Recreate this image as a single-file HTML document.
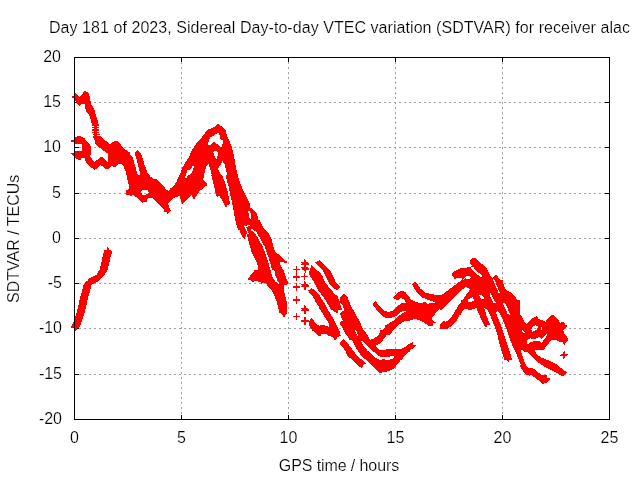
<!DOCTYPE html>
<html><head><meta charset="utf-8"><title>SDTVAR</title>
<style>
html,body{margin:0;padding:0;background:#fff;}
svg{display:block;will-change:transform}
text{font-family:"Liberation Sans",sans-serif;font-size:16px;fill:#000;stroke:#fff;stroke-width:0.2px;paint-order:fill stroke}
</style></head><body>
<svg width="640" height="480" viewBox="0 0 640 480">
<rect width="640" height="480" fill="#fff"/>
<g stroke="#a0a0a0" stroke-width="1" stroke-dasharray="2 3" shape-rendering="crispEdges"><line x1="181.5" y1="57" x2="181.5" y2="419"/><line x1="288.5" y1="57" x2="288.5" y2="419"/><line x1="395.5" y1="57" x2="395.5" y2="419"/><line x1="502.5" y1="57" x2="502.5" y2="419"/><line x1="74" y1="102.5" x2="609" y2="102.5"/><line x1="74" y1="147.5" x2="609" y2="147.5"/><line x1="74" y1="193.5" x2="609" y2="193.5"/><line x1="74" y1="238.5" x2="609" y2="238.5"/><line x1="74" y1="283.5" x2="609" y2="283.5"/><line x1="74" y1="328.5" x2="609" y2="328.5"/><line x1="74" y1="374.5" x2="609" y2="374.5"/></g>
<path d="M74.5 419v-4M74.5 58v4M181.5 419v-4M181.5 58v4M288.5 419v-4M288.5 58v4M395.5 419v-4M395.5 58v4M502.5 419v-4M502.5 58v4M609.5 419v-4M609.5 58v4M75 57.5h4M609 57.5h-4M75 102.5h4M609 102.5h-4M75 147.5h4M609 147.5h-4M75 193.5h4M609 193.5h-4M75 238.5h4M609 238.5h-4M75 283.5h4M609 283.5h-4M75 328.5h4M609 328.5h-4M75 374.5h4M609 374.5h-4M75 419.5h4M609 419.5h-4" stroke="#000" stroke-width="1" fill="none" shape-rendering="crispEdges"/>
<g shape-rendering="crispEdges"><g fill="#f00"><polygon points="74.7,93.6 77,94.7 79.7,96.7 82.5,93.6 85.3,90.5 88.8,93.6 90.3,99.1 91.1,104.5 94.2,108.4 95.8,115.5 97.8,120.2 98.9,125.6 99.4,135 102,138.9 105.9,143.6 109.1,146.7 99.7,147.5 96.6,144.4 93.4,138.1 92.7,131.9 91.9,125.6 91.1,120.2 88.8,114.7 85.6,110.8 85.3,104.5 81.7,103.8 79.4,106.1 76.2,102.2 74.7,100.6"/><polygon points="74.2,137.5 79.4,135.8 84.1,138 87.3,141.7 90.2,145 91.4,149.7 90.2,156.7 91.1,157.9 94.4,161.9 97.2,160 101.9,156.2 107.5,161.9 107.5,153.4 100.9,148.7 95.3,144.1 95.3,141.2 93,137.5 92,130 99.1,130 100,135.6 102.8,138.4 107.5,142.2 111.2,145 115,141.2 118.7,142.2 122.5,146.9 126.2,150.2 130,152.5 130,175 126.2,175 124.8,167.5 121.6,163.7 118.7,163.7 115,167.5 111.2,165.6 110.3,167.5 107,169.8 100.9,165.2 94.8,169.8 89.7,166.6 85,160.9 85,158.1 81.2,158.1 80.3,160.5 74.7,157.7 74.2,155.3"/><polygon points="110,144.4 115,140.6 118.8,141.9 122.5,147.5 128.8,152.5 132.5,156.9 133.8,161.2 136.9,172.5 138.8,177.5 141.2,177.5 140,172.5 136.9,160 135,155 134.4,153.8 137.5,150 141.9,155 143.1,160 145,166.2 147.5,172.5 150,176.2 153.8,179.4 156.9,178.8 160,182.5 163.8,186.2 166.2,190 168.8,190.6 172.5,187.5 176.2,182.5 180,173.8 182.5,167.5 186.2,161.2 190,156.2 190,195 126.2,195 126.2,190 129.4,188.8 128.8,185 127.5,180 125.6,171.2 123.1,165 119.4,163.1 115.6,167.5 110,165.6"/><polygon points="126.9,175 148.8,175 153.8,179.4 157.5,180.6 162.5,186.2 166.9,191.9 171.2,190 175,186.9 178.1,181.2 180,175 190,175 190,191.2 187.5,193.8 186.2,198.8 183.8,203.1 182.5,200 180.6,200 180,195.6 175,197.5 171.2,200 168.1,203.8 168.8,206.2 171.2,211.2 168.8,211.9 168.1,215 166.9,212.5 164.4,211.9 163.8,208.8 160,205.6 156.2,201.9 152.5,197.5 150,198.1 146.9,198.8 146.9,201.9 142.5,202.5 138.8,199.4 135,196.2 133.1,194.4 131.9,196.2 128.8,195 126.2,191.9 126.9,190 130,187.5 128.8,182.5 127.5,177.5"/><polygon points="180,175 182.5,170 186.2,163.8 188.8,157.5 191.9,150 196.2,143.8 201.2,138.1 204.4,133.8 208.1,129.4 212.5,128.1 218.1,123.8 221.2,126.2 225.6,130.6 227.5,136.9 230,142.5 231.9,147.5 233.8,155 235,162.5 236.2,170 236.9,175"/><polygon points="170,188.8 175,185.6 178.8,180.6 180.6,175 182.5,170 205,170 204.4,175 203.1,179.4 206.2,182.5 207.5,185 204.4,186.9 203.1,188.8 199.4,191.2 196.9,195 193.8,200 192.5,196.9 191.2,195 190,196.9 187.5,198.8 185,201.2 182.5,203.8 180.6,200 181.2,195 178.8,194.4 175,197.5 170,200"/><polygon points="210,170 220,170 222.5,176.2 225,182.5 227.5,191.2 229.4,200 230,203.8 227.5,205 226.2,207.5 223.8,203.8 221.9,199.4 219.4,196.2 216.9,196.9 215.6,193.8 215,190 213.8,185 211.9,177.5"/><polygon points="225.6,170 236.2,170 238.1,176.2 240,182.5 243.1,190 246.2,196.2 250,203.8 250,230 238.1,230 236.2,222.5 234.4,212.5 232.5,203.8 231.2,197.5 229.4,188.8 228.1,182.5 226.9,176.2"/><polygon points="225,165 235.6,165 236.9,172.5 238.8,180 240.6,186.2 243.1,195 246.9,198.1 248.1,203.8 250,208.1 251.9,208.1 256.9,213.1 258.1,218.8 260.6,225 236.2,225 234.4,215 232.5,205 230.6,196.2 228.8,187.5 226.2,177.5 225,170"/><polygon points="225,187.5 226.9,188.8 229.4,202.5 227.5,205 225,207.5"/><polygon points="235,220 259.4,220 261.9,225 265,230 268.8,233.8 271.9,240 273.1,246.2 275,251.9 276.9,253.1 281.2,256.2 284.4,260 288.1,261.9 286.2,263.1 283.8,262.5 281.2,261.9 279.4,263.1 280.6,265.6 283.1,270 285,275 286.2,280 248.1,280 249.4,276.9 251.9,273.1 255,271.2 258.1,270 258.1,266.2 256.2,261.2 253.8,256.2 251.2,251.2 250,246.2 248.1,240 246.9,233.1 244.4,239.4 241.9,236.2 239.4,230 236.9,223.8"/><polygon points="254.4,270 283.8,270 285,275 286.9,280 288.1,282.5 286.9,285 284.4,285 283.8,290 285,295 286.2,300 287.5,305 286.9,308.8 287.5,313.8 285,315 284.4,318.1 282.5,315 279.4,312.5 278.1,307.5 276.9,302.5 275,297.5 273.1,292.5 270.6,288.8 267.5,286.2 265.6,282.5 261.9,282.5 261.2,284.4 260.6,281.9 256.2,281.2 251.9,281.9 250,279.4 248.1,278.8 250.6,275 254.4,271.2"/><polygon points="315,262.5 319.4,260 322.5,263.1 326.9,266.9 330.6,271.2 333.1,276.2 335.6,281.9 338.8,285.6 341.2,286.9 337.5,290 333.8,288.8 330,285 327.5,280 325,274.4 323.1,271.2 320,267.5 316.9,264.4"/><polygon points="310.6,267.5 311.9,264.4 313.1,266.9 316.9,270 320.6,273.1 322.8,276.9 324.4,281.2 328.1,286.2 331.2,290 335.6,295 338.1,298.8 340,303.8 342.5,310 330,310 327.5,303.8 325,299.4 321.2,294.4 318.1,290 315.6,285 313.1,280.6 310.6,276.9 308.8,273.1"/><polygon points="339.4,300 340,297.5 343.8,294.4 345,296.9 347.5,297.5 349.4,302.5 351.9,308.1 352.5,310 345,310 343.1,306.2 341.2,303.1"/><polygon points="308.1,290.6 311.9,288.1 315,290.6 318.8,294.4 321.9,298.8 325,302.5 326.9,306.2 327.5,310 320,310 318.1,305 315,300 311.9,295 309.4,292.5"/><polygon points="322.5,295 337,295 338,297.8 339.8,301.6 338,303.4 338.4,306.2 340.3,309.5 338,310 338,313.3 333.7,311.4 330.9,308.1 328.1,304.4 325.3,299.7"/><polygon points="315,295 319.2,295 322.5,299.7 325.3,303.4 327.2,308.1 330,312.8 332.8,316.6 335.2,320.3 336.1,324.1 338.4,328.7 340.3,333.4 340.8,336.2 337.5,336.7 336.6,339.1 334.7,340 333.7,339.1 332.8,336.2 329.1,336.2 327.2,334.4 320.6,333.4 318.7,336.2 315,332.5 315,322.2 318.7,325.9 322.5,325 326.2,325.9 329.1,327.3 329.5,325.9 327.7,321.2 324.4,316.6 321.6,311.9 318.7,306.2 315,301.6"/><polygon points="340.3,297.8 344.1,295 347.3,296.9 349.2,301.6 351.6,307.2 354.4,311.9 357.2,317.5 360,321.2 361.9,326.9 364.7,331.6 367.5,335.3 370.3,340 349.7,340 346.9,335.3 345,331.6 343.1,327.8 340.3,325 340.3,322.2 343.1,320.3 341.2,317.5 340.3,313.7 343.1,310.9 345,309.1 342.7,304.4 340.3,301.6"/><polygon points="308.8,322.5 311.2,317.5 313.1,320 316.2,323.8 320,326.2 323.1,325 326.9,326.2 329.4,326.9 330,336.2 326.2,333.8 321.2,333.8 320,336.9 316.2,333.8 311.9,330 308.8,325"/><polygon points="315.6,300 323.1,300 326.2,305 328.1,310 331.2,315 334.4,320 336.2,325 338.1,330 340.6,333.8 340,335.6 337.5,336.2 336.9,338.8 335,340 333.1,336.9 330,336.2 329.4,326.9 330,325 327.5,320 324.4,315 321.2,310 318.8,305"/><polygon points="330,275 332.5,275 335,281.2 337.5,285.6 340.6,286.9 338.1,289.4 336.9,290.6 333.8,288.1 330,285"/><polygon points="340,297.5 343.8,293.8 347.5,297.5 349.4,303.8 351.9,310 355,316.2 358.1,321.2 360.6,326.2 363.1,331.2 365.6,335 346.2,335 345,332.5 343.1,328.8 340.6,325 340.6,322.5 343.1,321.2 341.9,318.8 340.6,315 342.5,312.5 344.4,310 342.5,305 340,301.9"/><polygon points="330,315 332.5,318.8 335,325 338.1,331.2 340,335 330,335"/><polygon points="372.5,304.4 375.6,301.2 377.5,303.8 381.2,308.1 385,311.2 388.8,311.9 392.5,310.6 395.6,308.1 398.8,305.6 401.9,303.1 406.2,303.1 410,304.4 410,311.2 405,310.6 401.2,312.5 398.1,315 393.8,317.5 388.8,318.8 383.8,316.9 380,313.8 376.2,309.4 373.8,306.2"/><polygon points="380,333.8 383.8,328.8 388.8,323.8 395,318.8 400,315 403.8,312.5 410,311.2 410,318.8 403.8,321.2 398.8,325 393.8,330 389.4,335 380,335"/><polygon points="385,311.2 390,311.9 393.8,310 397.5,306.2 401.2,303.1 406.2,303.8 404.4,299.4 400.6,298.1 396.9,300.6 393.1,297.5 396.2,293.8 401.2,290.6 405,291.9 408.1,295.6 411.2,299.4 415.6,301.9 421.2,303.1 425,301.9 427.5,303.8 431.2,302.8 436.2,303.5 432.5,301.2 427.5,300 422.5,297.5 418.1,293.8 414.4,288.8 411.9,284.4 415,281.2 417.5,284.4 420.6,288.8 426.2,293.1 433.8,294.4 440,295.6 445,293.8 450,289.4 455,285 460,281.2 465,278.8 465,287.5 460,291.2 455,295 450,300 443.8,305 438.8,309.4 435,313.8 432.5,317.5 431.9,320 435.6,322.5 432.5,323.8 432.5,326.2 428.8,326.2 425,323.1 420,320.6 415,318.8 410,320.6 405,321.2 400,322.5 395,326.2 390,330 387.5,333.8 385,335"/><polygon points="440,325 443.8,321.9 447.5,321.2 451.2,317.5 455,311.2 458.8,305 462.5,301.2 465,298.8 465,307.5 462.5,310 460,313.8 456.9,318.8 452.5,325 447.5,328.8 443.1,328.8"/><polygon points="451.2,275 460,275 460,277.5 456.2,278.5 453.8,276.9"/><polygon points="330,330 338.8,330 340.6,335 337.5,336.2 335.6,339.4 333.8,338.8 332.5,336.9 330,336.2"/><polygon points="340.6,341.9 343.1,339.4 345.6,341.9 348.8,345 352.5,350 356.2,354.4 360,358.1 364.4,361.9 366.2,363.8 363.1,365 362.5,367.5 359.4,365.6 355.6,362.5 351.2,358.1 347.5,353.8 344.4,348.8 341.9,345"/><polygon points="345,330 363.8,330 367.5,335 370.2,339.8 373.1,339 376.2,336.9 379.4,333.8 380,330 391.2,330 387.5,333.8 385,337.5 382.5,340.6 379.4,343.8 375.6,345.6 376.9,347.5 379.4,350 382.5,350 386.2,349.4 391.2,348.8 396.2,348.8 401.2,348.8 406.2,347.5 410,344.4 410,351.2 408.1,352.5 405,355 401.9,358.8 398.8,362.5 396.2,365.6 393.8,368.8 390,370.6 385,371.9 380,373.1 376.9,370.6 373.8,367.5 371.2,364.4 367.5,361.2 362.5,356.9 358.8,352.5 355.6,347.5 352.5,341.2 348.8,335"/><polygon points="400,350 403.8,348.1 407.5,345 412.5,341.9 413.1,344.4 416.2,345.6 413.8,348.1 410,350 406.2,353.1 403.8,356.2 401.9,360 400,360"/><polygon points="440,296.2 445,292.5 450,288.8 455,285 460,281.2 463.1,278.8 460.6,278.1 457.5,278.1 454.4,278.8 453.8,276.2 451.2,275 453.8,271.2 457.5,270 461.2,267.5 465,268.1 470,266.9 471.9,266.2 470.6,263.8 469.4,261.2 472.5,258.1 475.6,258.1 478.1,261.2 482.5,264.4 486.2,267.5 488.1,271.2 490,275 491.9,278.1 495,275.6 496.9,275 498.8,278.1 501.2,281.2 503.1,285.6 505,288.8 508.1,291.2 511.2,292.5 515,296.2 517.5,301.2 519.4,307.5 520,311.2 520,315 490,315 487.5,310 485.6,307.5 484.4,308.1 486.2,315 479.4,315 477.5,311.2 476.9,307.5 473.8,308.1 470,309.4 465.6,308.1 463.1,310 460.6,315 454.4,315 455,311.9 458.8,307.5 461.2,303.1 463.8,298.1 466.9,293.8 469.4,290.6 470,288.8 466.2,286.9 463.1,288.8 460,291.2 456.2,295 452.5,298.8 448.8,302.5 445,306.2 441.2,310 440,310"/><polygon points="461.2,300 520,300 520,360 516.2,360 513.8,353.8 511.2,347.5 508.8,340 506.2,331.2 503.8,323.8 501.2,316.2 497.5,311.2 495,311.9 498.1,316.2 501.2,323.8 503.1,331.2 505,337.5 507.5,346.2 510,353.8 511.9,360 504.4,360 502.5,353.8 500.6,347.5 498.8,341.2 497.5,335 495,327.5 492.5,321.2 490.6,316.2 489.4,311.9 487.5,310 483.8,307.5 484.4,310 486.2,315 488.1,320 490,324.4 487.5,325 486.2,327.5 484.4,325.6 481.9,321.2 480,316.2 478.1,311.2 476.9,307.5 473.8,308.8 470,310 465,308.8 461.2,311.9 458.8,316.2 456.2,321.2 452.5,325 447.5,328.1 442.5,328.8 440,328.8 440,324.4 443.8,321.2 446.9,322.5 451.2,320 453.8,315 456.2,310 460,305"/><polygon points="500,280 502.5,280 503.8,285 505.6,290 509.4,292.5 512.5,295 515.6,298.8 517.5,301.9 515.6,303.1 516.2,306.9 518.8,311.2 521.2,316.2 523.8,321.2 526.2,324.4 529.4,320.6 532.5,318.8 536.2,316.2 538.1,318.8 541.9,320 545.6,321.9 548.1,318.1 551.9,315 555,316.9 558.1,320.6 560.6,323.1 563.8,322.5 565.6,325 567.5,326.9 565,328.1 563.1,330 564.4,333.8 566.9,337.5 568.1,340 500,340"/><polygon points="497.5,335 504.4,335 506.2,340 508.1,346.2 510,352.5 511.9,358.8 509.4,360 508.1,362.5 506.2,358.8 504.4,353.8 502.5,348.8 500.6,342.5 498.8,337.5"/><polygon points="509.4,335 511.2,340 513.8,346.2 515.6,352.5 518.1,360 520.6,366.2 523.1,371.2 526.9,375 529.4,375.6 531.2,375 535,377.5 538.8,380.6 542.5,383.8 546.9,383.1 548.8,380.6 550.6,378.8 547.5,377.5 546.9,375 543.8,375.6 540,373.8 536.2,370.6 532.5,368.1 530.6,367.5 528.1,368.1 526.2,365.6 524.4,361.9 523.1,357.5 521.9,353.8 520.6,350 521.9,349.4 525,352.5 527.5,351.9 531.2,356.2 535,360 540,363.8 545,366.9 550,369.4 555,371.9 560,375 563.1,376.2 565,374.4 567.5,372.5 564.4,370.6 561.2,368.1 557.5,365 552.5,362.5 547.5,360 542.5,358.1 538.1,355.6 535.6,352.5 534.4,349.4 538.1,347.5 542.5,346.9 546.2,344.4 550,341.2 552.5,337.5 554.4,336.2 556.2,338.1 560,340.6 563.8,341.9 565,343.8 566.2,341.9 568.1,340 566.9,336.9 565.6,335"/><polygon points="520,314.8 521.9,316.2 523.7,320.9 526.6,324.7 528.4,321.9 531.2,319.1 534.1,317.2 536.9,316.2 538.3,318.6 541.6,320 544.8,322.8 547.2,320 550,316.7 552.3,314.8 554.7,315.8 557.5,319.1 560.3,322.8 563.1,321.9 565,324.2 567.8,326.1 565.5,328 563.1,330.3 564.1,334.1 565.9,336.9 567.8,337.8 567.8,341.1 565,342.5 564.5,344.8 562.7,342.5 558,341.1 555.6,338.3 553.3,336.4 552.3,338.7 550,341.6 547.2,345.3 544.8,348.1 543.9,350 520,350"/><polygon points="343,339 344.1,339.4 346.7,341.9 349.6,345.9 352.5,349.6 354.3,353.2 356.9,355.4 359,357.6 362,360.5 365.6,363.8 363.1,364.9 363.1,367.1 361.2,367.8 358.3,365.6 354.7,362.7 350.3,358.3 347,355.4 345.9,351.8 343,347.4 340.5,344.5 340.1,342.3 342.7,341.6"/><polygon points="512.8,345 514.2,349.7 515.6,354.4 517,359.1 518.9,363.7 521.2,368.4 524.1,372.2 525.9,373.1 525,369.4 522.2,363.7 520.3,359.1 519.4,354.4 518.4,349.7 517.5,345"/></g><g fill="#fff"><polygon points="75.2,144.1 81.7,144.1 81.7,150.6 75.2,150.6"/><polygon points="141.2,191.2 143.1,190 147.5,190 149.4,193.1 146.9,193.8 145,195 141.9,194.4"/><polygon points="207.5,145 210,137.5 213.8,135.6 218.1,132.5 220,136.2 220.6,140 223.8,140.6 221.2,147.5 217.5,144.4 213.8,141.9 210,145.6"/><polygon points="213.1,151.9 215.6,150.6 218.1,152.5 216.9,160 214.4,156.2"/><polygon points="187.5,174 193.1,165.6 194,166.2 191.9,172.5 190,175 188.5,175"/><polygon points="203.8,175 206.9,165 208.8,164.4 210.6,170 211.9,175"/><polygon points="218.1,168.8 222.5,161.2 225,165 226.2,171.2 227.5,175 221.2,175"/><polygon points="187.5,170 190,170 186.9,177.5 185,178.1"/><polygon points="248.1,210.6 250,210.6 251.5,218.8 250,219.4 248.8,215"/><polygon points="271.9,270 274.4,270 275.6,276.2 277.5,280.6 280,283.1 278.1,283.8 275,281.2 273.1,276.2"/><polygon points="354.8,330.2 356.2,330.6 358.1,335.3 357.2,336.2"/><polygon points="385,318.1 390,318.1 395,316.9 398.8,313.8 401.9,311.2 405.6,310.6 406.2,311.9 402.5,313.1 399.4,315.6 396.2,318.8 392.5,321.2 388.8,323.5 385,325.6"/><polygon points="360.6,340.6 362.5,340.6 365.6,343.8 370,348.1 373.8,351.9 377.5,355 381.2,356.9 385,356.9 388.8,356.9 392.5,355.6 395,356.9 391.2,359.4 386.2,360 383.8,358.8 380,360 376.2,358.1 372.5,355 367.5,350.6 363.8,346.2"/><polygon points="470.6,267.5 473.1,266.9 476.2,270.6 480,273.8 481.9,275 481.9,277.5 479.4,276.2 475.6,273.1 472.5,270"/><polygon points="462.5,279.4 466.9,275.6 470,276.2 471.2,277.5 468.1,279.4 465.6,278.1 463.8,280"/><polygon points="468.1,299.4 473.1,296.9 473.8,300.6 471.9,301.9 468.1,301.9"/><polygon points="478.8,294.4 481.2,295 484.4,298.1 482.5,299.4 480,297.5"/><polygon points="489.4,291.9 491.2,293.8 493.1,298.1 495.6,302.5 493.8,303.1 491.2,298.8 490,295"/><polygon points="492.5,278.1 494.4,279.4 496.2,283.8 498.1,288.8 499.8,292.5 498.5,292.5 496.9,288.8 495,284.4 493.1,280.6"/><polygon points="503.1,303.1 505,303.8 506.9,308.8 508.8,313.8 507.5,313.8 505.6,309.4 503.8,305"/><polygon points="503.1,303.1 505,303.8 508.1,309.4 509.4,314.4 508.1,314.4 506.2,309.4 503.8,305.6"/><polygon points="503.1,303.1 505,303.1 506.9,306.9 508.8,311.2 510,315 508.8,315 506.9,311.2 505,307.5"/><polygon points="500,316.2 501.9,317.5 503.1,322.5 504.4,327.5 502.5,328.1 501.2,322.5 500,320"/><polygon points="527.2,343.8 527.8,340 530.6,337.8 531.5,339.4 535,338.8 539.4,336.9 541.5,338.8 544.4,335.6 545,336.2 544,339.4 541.9,342.5 538.8,340.6 533.8,341.2 529.4,342.5"/><polygon points="531.2,329.4 532.7,326.6 535.5,325.2 537.8,326.6 537.3,329.4 534.1,330.8 532.7,332.2"/><polygon points="541.1,327 542.3,327 542.3,329.8 541.1,329.8"/><polygon points="521.9,329.8 523.7,330.8 525.6,333.1 524.2,333.6 522.3,331.7"/><polygon points="527,342.5 527.5,340.2 529.8,339.2 530.3,337.3 531.2,339.2 534.1,339.2 537.8,338.3 539.7,337.3 541.6,338.7 543.4,336.9 545.8,334.5 547.2,334.1 546.2,336.4 544.8,338.7 543,341.1 541.6,343 540.2,341.1 537.8,340.6 534.1,341.1 530.8,342 528.9,343.4 527.5,343.9"/><polygon points="495.9,312.2 498,312.7 500.6,315.8 502.7,321 504.3,326.2 505.8,331.5 507.4,336.7 509.5,341.9 510.5,345 507.4,345 505.8,339.8 504.3,335.6 502.2,329.4 500.6,324.2 498.5,319 497,315.3"/><polygon points="319.6,295 322,295 325.2,299.7 328,304.4 330.3,309.1 333.2,313.7 336.2,318.4 337.7,323.1 339.1,326.9 338.9,329.7 337.2,326.9 335.3,322.2 333,318 330.2,313.3 327.3,309.1 325,303.4 321.9,299.7"/><polygon points="496.2,311.9 498.8,315.6 501.5,321.2 504,327.5 505.9,335 507.8,342.5 510,350 512.2,356.2 512.8,360 512.8,365 521,365 518.8,360 516.9,355 513.8,348.8 511.2,342.5 509,336.2 506.9,330 504.4,323.8 501.9,317.5 499.4,313.1 497.5,311.2"/><polygon points="90,126 94.4,126 94.4,127 90,127"/><polygon points="96.8,126 101.5,126 101.5,127 96.8,127"/><polygon points="90,128 94.4,128 94.4,129 90,129"/><polygon points="96.8,128 101.5,128 101.5,129 96.8,129"/><polygon points="90,131 94.4,131 94.4,132 90,132"/><polygon points="96.8,131 101.5,131 101.5,132 96.8,132"/><polygon points="90,133 94.4,133 94.4,134 90,134"/><polygon points="96.8,133 101.5,133 101.5,134 96.8,134"/><polygon points="90,135 94.4,135 94.4,136 90,136"/><polygon points="96.8,135 101.5,135 101.5,136 96.8,136"/></g><clipPath id="hc"><polygon points="75.2,144.1 81.7,144.1 81.7,150.6 75.2,150.6"/><polygon points="141.2,191.2 143.1,190 147.5,190 149.4,193.1 146.9,193.8 145,195 141.9,194.4"/><polygon points="207.5,145 210,137.5 213.8,135.6 218.1,132.5 220,136.2 220.6,140 223.8,140.6 221.2,147.5 217.5,144.4 213.8,141.9 210,145.6"/><polygon points="213.1,151.9 215.6,150.6 218.1,152.5 216.9,160 214.4,156.2"/><polygon points="187.5,174 193.1,165.6 194,166.2 191.9,172.5 190,175 188.5,175"/><polygon points="203.8,175 206.9,165 208.8,164.4 210.6,170 211.9,175"/><polygon points="218.1,168.8 222.5,161.2 225,165 226.2,171.2 227.5,175 221.2,175"/><polygon points="187.5,170 190,170 186.9,177.5 185,178.1"/><polygon points="248.1,210.6 250,210.6 251.5,218.8 250,219.4 248.8,215"/><polygon points="271.9,270 274.4,270 275.6,276.2 277.5,280.6 280,283.1 278.1,283.8 275,281.2 273.1,276.2"/><polygon points="354.8,330.2 356.2,330.6 358.1,335.3 357.2,336.2"/><polygon points="385,318.1 390,318.1 395,316.9 398.8,313.8 401.9,311.2 405.6,310.6 406.2,311.9 402.5,313.1 399.4,315.6 396.2,318.8 392.5,321.2 388.8,323.5 385,325.6"/><polygon points="360.6,340.6 362.5,340.6 365.6,343.8 370,348.1 373.8,351.9 377.5,355 381.2,356.9 385,356.9 388.8,356.9 392.5,355.6 395,356.9 391.2,359.4 386.2,360 383.8,358.8 380,360 376.2,358.1 372.5,355 367.5,350.6 363.8,346.2"/><polygon points="470.6,267.5 473.1,266.9 476.2,270.6 480,273.8 481.9,275 481.9,277.5 479.4,276.2 475.6,273.1 472.5,270"/><polygon points="462.5,279.4 466.9,275.6 470,276.2 471.2,277.5 468.1,279.4 465.6,278.1 463.8,280"/><polygon points="468.1,299.4 473.1,296.9 473.8,300.6 471.9,301.9 468.1,301.9"/><polygon points="478.8,294.4 481.2,295 484.4,298.1 482.5,299.4 480,297.5"/><polygon points="489.4,291.9 491.2,293.8 493.1,298.1 495.6,302.5 493.8,303.1 491.2,298.8 490,295"/><polygon points="492.5,278.1 494.4,279.4 496.2,283.8 498.1,288.8 499.8,292.5 498.5,292.5 496.9,288.8 495,284.4 493.1,280.6"/><polygon points="503.1,303.1 505,303.8 506.9,308.8 508.8,313.8 507.5,313.8 505.6,309.4 503.8,305"/><polygon points="503.1,303.1 505,303.8 508.1,309.4 509.4,314.4 508.1,314.4 506.2,309.4 503.8,305.6"/><polygon points="503.1,303.1 505,303.1 506.9,306.9 508.8,311.2 510,315 508.8,315 506.9,311.2 505,307.5"/><polygon points="500,316.2 501.9,317.5 503.1,322.5 504.4,327.5 502.5,328.1 501.2,322.5 500,320"/><polygon points="527.2,343.8 527.8,340 530.6,337.8 531.5,339.4 535,338.8 539.4,336.9 541.5,338.8 544.4,335.6 545,336.2 544,339.4 541.9,342.5 538.8,340.6 533.8,341.2 529.4,342.5"/><polygon points="531.2,329.4 532.7,326.6 535.5,325.2 537.8,326.6 537.3,329.4 534.1,330.8 532.7,332.2"/><polygon points="541.1,327 542.3,327 542.3,329.8 541.1,329.8"/><polygon points="521.9,329.8 523.7,330.8 525.6,333.1 524.2,333.6 522.3,331.7"/><polygon points="527,342.5 527.5,340.2 529.8,339.2 530.3,337.3 531.2,339.2 534.1,339.2 537.8,338.3 539.7,337.3 541.6,338.7 543.4,336.9 545.8,334.5 547.2,334.1 546.2,336.4 544.8,338.7 543,341.1 541.6,343 540.2,341.1 537.8,340.6 534.1,341.1 530.8,342 528.9,343.4 527.5,343.9"/><polygon points="495.9,312.2 498,312.7 500.6,315.8 502.7,321 504.3,326.2 505.8,331.5 507.4,336.7 509.5,341.9 510.5,345 507.4,345 505.8,339.8 504.3,335.6 502.2,329.4 500.6,324.2 498.5,319 497,315.3"/><polygon points="319.6,295 322,295 325.2,299.7 328,304.4 330.3,309.1 333.2,313.7 336.2,318.4 337.7,323.1 339.1,326.9 338.9,329.7 337.2,326.9 335.3,322.2 333,318 330.2,313.3 327.3,309.1 325,303.4 321.9,299.7"/><polygon points="496.2,311.9 498.8,315.6 501.5,321.2 504,327.5 505.9,335 507.8,342.5 510,350 512.2,356.2 512.8,360 512.8,365 521,365 518.8,360 516.9,355 513.8,348.8 511.2,342.5 509,336.2 506.9,330 504.4,323.8 501.9,317.5 499.4,313.1 497.5,311.2"/><polygon points="90,126 94.4,126 94.4,127 90,127"/><polygon points="96.8,126 101.5,126 101.5,127 96.8,127"/><polygon points="90,128 94.4,128 94.4,129 90,129"/><polygon points="96.8,128 101.5,128 101.5,129 96.8,129"/><polygon points="90,131 94.4,131 94.4,132 90,132"/><polygon points="96.8,131 101.5,131 101.5,132 96.8,132"/><polygon points="90,133 94.4,133 94.4,134 90,134"/><polygon points="96.8,133 101.5,133 101.5,134 96.8,134"/><polygon points="90,135 94.4,135 94.4,136 90,136"/><polygon points="96.8,135 101.5,135 101.5,136 96.8,136"/></clipPath><g clip-path="url(#hc)"><g stroke="#a0a0a0" stroke-width="1" stroke-dasharray="2 3" shape-rendering="crispEdges"><line x1="181.5" y1="57" x2="181.5" y2="419"/><line x1="288.5" y1="57" x2="288.5" y2="419"/><line x1="395.5" y1="57" x2="395.5" y2="419"/><line x1="502.5" y1="57" x2="502.5" y2="419"/><line x1="74" y1="102.5" x2="609" y2="102.5"/><line x1="74" y1="147.5" x2="609" y2="147.5"/><line x1="74" y1="193.5" x2="609" y2="193.5"/><line x1="74" y1="238.5" x2="609" y2="238.5"/><line x1="74" y1="283.5" x2="609" y2="283.5"/><line x1="74" y1="328.5" x2="609" y2="328.5"/><line x1="74" y1="374.5" x2="609" y2="374.5"/></g>
<path d="M74.5 419v-4M74.5 58v4M181.5 419v-4M181.5 58v4M288.5 419v-4M288.5 58v4M395.5 419v-4M395.5 58v4M502.5 419v-4M502.5 58v4M609.5 419v-4M609.5 58v4M75 57.5h4M609 57.5h-4M75 102.5h4M609 102.5h-4M75 147.5h4M609 147.5h-4M75 193.5h4M609 193.5h-4M75 238.5h4M609 238.5h-4M75 283.5h4M609 283.5h-4M75 328.5h4M609 328.5h-4M75 374.5h4M609 374.5h-4M75 419.5h4M609 419.5h-4" stroke="#000" stroke-width="1" fill="none" shape-rendering="crispEdges"/>
</g><polyline fill="none" stroke="#fff" stroke-width="1.7" points="251.2,229.4 255.6,232.5 259.4,238.8 263.8,246.9 267.5,256.9 270.6,267.5 273.8,278.8"/><polyline fill="none" stroke="#fff" stroke-width="1.2" points="244.8,226.2 246.9,230.6 248.1,233.8"/><polyline fill="none" stroke="#fff" stroke-width="1.2" points="246.2,226.5 250.6,224.8"/><g fill="none" stroke="#f00" stroke-width="1" stroke-linejoin="round"><polyline points="74,328 75.5,326 78,319 81,309.5 83,300 85.5,291 87,285 90,281.5 93,280 97,278 100,275 103,270 105,262 106.5,255 108,250.5"/><polyline points="75,328 76.5,326 79,319 82,309.5 84,300 86.5,291 88,285 91,281.5 94,280 98,278 101,275 104,270 106,262 107.5,255 109,251"/><g transform="translate(-3,0)"><polyline points="74,328 75.5,326 78,319 81,309.5 83,300 85.5,291 87,285 90,281.5 93,280 97,278 100,275 103,270 105,262 106.5,255 108,250.5"/><polyline points="75,328 76.5,326 79,319 82,309.5 84,300 86.5,291 88,285 91,281.5 94,280 98,278 101,275 104,270 106,262 107.5,255 109,251"/></g><g transform="translate(-2,0)"><polyline points="74,328 75.5,326 78,319 81,309.5 83,300 85.5,291 87,285 90,281.5 93,280 97,278 100,275 103,270 105,262 106.5,255 108,250.5"/><polyline points="75,328 76.5,326 79,319 82,309.5 84,300 86.5,291 88,285 91,281.5 94,280 98,278 101,275 104,270 106,262 107.5,255 109,251"/></g><g transform="translate(-1,0)"><polyline points="74,328 75.5,326 78,319 81,309.5 83,300 85.5,291 87,285 90,281.5 93,280 97,278 100,275 103,270 105,262 106.5,255 108,250.5"/><polyline points="75,328 76.5,326 79,319 82,309.5 84,300 86.5,291 88,285 91,281.5 94,280 98,278 101,275 104,270 106,262 107.5,255 109,251"/></g><g transform="translate(1,0)"><polyline points="74,328 75.5,326 78,319 81,309.5 83,300 85.5,291 87,285 90,281.5 93,280 97,278 100,275 103,270 105,262 106.5,255 108,250.5"/><polyline points="75,328 76.5,326 79,319 82,309.5 84,300 86.5,291 88,285 91,281.5 94,280 98,278 101,275 104,270 106,262 107.5,255 109,251"/></g><g transform="translate(2,0)"><polyline points="74,328 75.5,326 78,319 81,309.5 83,300 85.5,291 87,285 90,281.5 93,280 97,278 100,275 103,270 105,262 106.5,255 108,250.5"/><polyline points="75,328 76.5,326 79,319 82,309.5 84,300 86.5,291 88,285 91,281.5 94,280 98,278 101,275 104,270 106,262 107.5,255 109,251"/></g><g transform="translate(3,0)"><polyline points="74,328 75.5,326 78,319 81,309.5 83,300 85.5,291 87,285 90,281.5 93,280 97,278 100,275 103,270 105,262 106.5,255 108,250.5"/><polyline points="75,328 76.5,326 79,319 82,309.5 84,300 86.5,291 88,285 91,281.5 94,280 98,278 101,275 104,270 106,262 107.5,255 109,251"/></g><g transform="translate(0,-3)"><polyline points="74,328 75.5,326 78,319 81,309.5 83,300 85.5,291 87,285 90,281.5 93,280 97,278 100,275 103,270 105,262 106.5,255 108,250.5"/><polyline points="75,328 76.5,326 79,319 82,309.5 84,300 86.5,291 88,285 91,281.5 94,280 98,278 101,275 104,270 106,262 107.5,255 109,251"/></g><g transform="translate(0,-2)"><polyline points="74,328 75.5,326 78,319 81,309.5 83,300 85.5,291 87,285 90,281.5 93,280 97,278 100,275 103,270 105,262 106.5,255 108,250.5"/><polyline points="75,328 76.5,326 79,319 82,309.5 84,300 86.5,291 88,285 91,281.5 94,280 98,278 101,275 104,270 106,262 107.5,255 109,251"/></g><g transform="translate(0,-1)"><polyline points="74,328 75.5,326 78,319 81,309.5 83,300 85.5,291 87,285 90,281.5 93,280 97,278 100,275 103,270 105,262 106.5,255 108,250.5"/><polyline points="75,328 76.5,326 79,319 82,309.5 84,300 86.5,291 88,285 91,281.5 94,280 98,278 101,275 104,270 106,262 107.5,255 109,251"/></g><g transform="translate(0,1)"><polyline points="74,328 75.5,326 78,319 81,309.5 83,300 85.5,291 87,285 90,281.5 93,280 97,278 100,275 103,270 105,262 106.5,255 108,250.5"/><polyline points="75,328 76.5,326 79,319 82,309.5 84,300 86.5,291 88,285 91,281.5 94,280 98,278 101,275 104,270 106,262 107.5,255 109,251"/></g><g transform="translate(0,2)"><polyline points="74,328 75.5,326 78,319 81,309.5 83,300 85.5,291 87,285 90,281.5 93,280 97,278 100,275 103,270 105,262 106.5,255 108,250.5"/><polyline points="75,328 76.5,326 79,319 82,309.5 84,300 86.5,291 88,285 91,281.5 94,280 98,278 101,275 104,270 106,262 107.5,255 109,251"/></g><g transform="translate(0,3)"><polyline points="74,328 75.5,326 78,319 81,309.5 83,300 85.5,291 87,285 90,281.5 93,280 97,278 100,275 103,270 105,262 106.5,255 108,250.5"/><polyline points="75,328 76.5,326 79,319 82,309.5 84,300 86.5,291 88,285 91,281.5 94,280 98,278 101,275 104,270 106,262 107.5,255 109,251"/></g></g><path stroke="#f00" stroke-width="1" fill="none" d="M72 96.5h7M75.5 93v7M72 97.5h7M75.5 94v7M71 140.5h7M74.5 137v7M71 141.5h7M74.5 138v7M71 153.5h7M74.5 150v7M72 154.5h7M75.5 151v7M73 155.5h7M76.5 152v7M293 269.5h7M296.5 266v7M293 276.5h7M296.5 273v7M293 277.5h7M296.5 274v7M293 286.5h7M296.5 283v7M293 287.5h7M296.5 284v7M293 299.5h7M296.5 296v7M293 300.5h7M296.5 297v7M293 316.5h7M296.5 313v7M301 262.5h7M304.5 259v7M302 263.5h7M305.5 260v7M301 264.5h7M304.5 261v7M302 264.5h7M305.5 261v7M301 267.5h7M304.5 264v7M302 268.5h7M305.5 265v7M302 269.5h7M305.5 266v7M301 276.5h7M304.5 273v7M301 284.5h7M304.5 281v7M302 285.5h7M305.5 282v7M301 286.5h7M304.5 283v7M302 286.5h7M305.5 283v7M301 308.5h7M304.5 305v7M302 309.5h7M305.5 306v7M301 310.5h7M304.5 307v7M302 310.5h7M305.5 307v7M301 320.5h7M304.5 317v7M302 321.5h7M305.5 318v7M301 321.5h7M304.5 318v7M302 320.5h7M305.5 317v7M560 355.5h7M563.5 352v7M561 354.5h7M564.5 351v7"/></g>
<rect x="74.5" y="57.5" width="535" height="362" fill="none" stroke="#000" stroke-width="1" shape-rendering="crispEdges"/>
<text x="49" y="33" textLength="581" lengthAdjust="spacing" style="white-space:pre">Day 181 of 2023, Sidereal Day-to-day VTEC variation (SDTVAR) for receiver alac</text>
<text x="61" y="62" text-anchor="end">20</text><text x="61" y="107" text-anchor="end">15</text><text x="61" y="152" text-anchor="end">10</text><text x="61" y="198" text-anchor="end">5</text><text x="61" y="243" text-anchor="end">0</text><text x="62" y="288" text-anchor="end">-5</text><text x="62" y="333" text-anchor="end">-10</text><text x="62" y="379" text-anchor="end">-15</text><text x="62" y="424" text-anchor="end">-20</text>
<text x="74.5" y="443" text-anchor="middle">0</text><text x="181.5" y="443" text-anchor="middle">5</text><text x="288.5" y="443" text-anchor="middle">10</text><text x="395.5" y="443" text-anchor="middle">15</text><text x="502.5" y="443" text-anchor="middle">20</text><text x="609.5" y="443" text-anchor="middle">25</text>
<text x="278.8" y="471" textLength="120.4" lengthAdjust="spacing">GPS time / hours</text>
<text transform="translate(18.5,238.8) rotate(-90)" text-anchor="middle">SDTVAR / TECUs</text>
</svg></body></html>
